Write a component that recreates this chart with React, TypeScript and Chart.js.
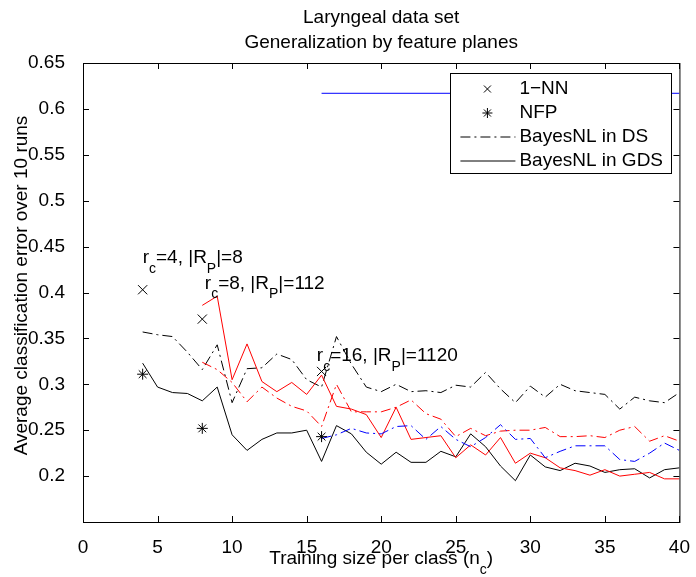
import React, { useEffect, useRef } from "react";
import { Chart, registerables } from "chart.js";

Chart.register(...registerables);

const TITLE_LINES = ["Laryngeal data set", "Generalization by feature planes"];
const Y_LABEL = "Average classification error over 10 runs";

const X_FROM_4 = [4, 5, 6, 7, 8, 9, 10, 11, 12, 13, 14, 15, 16, 17, 18, 19, 20, 21, 22, 23, 24, 25, 26, 27, 28, 29, 30, 31, 32, 33, 34, 35, 36, 37, 38, 39, 40];
const X_FROM_8 = [8, 9, 10, 11, 12, 13, 14, 15, 16, 17, 18, 19, 20, 21, 22, 23, 24, 25, 26, 27, 28, 29, 30, 31, 32, 33, 34, 35, 36, 37, 38, 39, 40];
const X_FROM_16 = [16, 17, 18, 19, 20, 21, 22, 23, 24, 25, 26, 27, 28, 29, 30, 31, 32, 33, 34, 35, 36, 37, 38, 39, 40];

const DS_BLACK = [0.357, 0.354, 0.352, 0.335, 0.316, 0.343, 0.28, 0.317, 0.318, 0.333, 0.327, 0.305, 0.297, 0.352, 0.322, 0.297, 0.292, 0.3, 0.292, 0.293, 0.291, 0.299, 0.297, 0.313, 0.295, 0.28, 0.298, 0.286, 0.3, 0.293, 0.291, 0.289, 0.273, 0.286, 0.282, 0.28, 0.291];
const GDS_BLACK = [0.323, 0.297, 0.291, 0.29, 0.282, 0.297, 0.245, 0.228, 0.24, 0.247, 0.247, 0.25, 0.216, 0.255, 0.246, 0.226, 0.213, 0.226, 0.215, 0.215, 0.227, 0.221, 0.246, 0.232, 0.211, 0.195, 0.223, 0.21, 0.206, 0.214, 0.211, 0.204, 0.207, 0.208, 0.198, 0.207, 0.209];
const DS_RED = [0.324, 0.316, 0.302, 0.281, 0.297, 0.285, 0.276, 0.271, 0.254, 0.3, 0.27, 0.27, 0.27, 0.275, 0.283, 0.268, 0.262, 0.243, 0.252, 0.244, 0.249, 0.25, 0.25, 0.253, 0.243, 0.243, 0.244, 0.242, 0.25, 0.254, 0.238, 0.244, 0.238];
const GDS_RED = [0.386, 0.396, 0.305, 0.344, 0.303, 0.292, 0.302, 0.289, 0.31, 0.276, 0.273, 0.267, 0.242, 0.275, 0.24, 0.242, 0.244, 0.22, 0.234, 0.223, 0.242, 0.214, 0.225, 0.22, 0.209, 0.206, 0.201, 0.207, 0.2, 0.202, 0.204, 0.197, 0.197];
const DS_BLUE = [0.241, 0.245, 0.252, 0.247, 0.246, 0.254, 0.255, 0.24, 0.254, 0.24, 0.232, 0.242, 0.256, 0.24, 0.241, 0.22, 0.227, 0.233, 0.233, 0.233, 0.218, 0.216, 0.225, 0.236, 0.228];
const GDS_BLUE_X = [16, 40];
const GDS_BLUE = [0.617, 0.617];

const NN_X = [4, 8, 16];
const NN_ERR = [0.403, 0.371, 0.314];
const NFP_X = [4, 8, 16];
const NFP_ERR = [0.311, 0.252, 0.243];

const ANNOT_X = [4, 8.17, 15.68];
const ANNOT_Y = [0.4375, 0.41, 0.331];
const ANNOT_RC = ["4", "8", "16"];
const ANNOT_RP = ["8", "112", "1120"];

const LEGEND_LABELS = ["1\u2212NN", "NFP", "BayesNL in DS", "BayesNL in GDS"];

const FONT = "'Liberation Sans', Arial, Helvetica, sans-serif";
const FS = 19;
const SUB = 14;
const SUB_OFF = 11;
const DASHDOT = [10, 4, 2, 4];

type Part = { t: string; sub?: boolean };

function richWidth(ctx: CanvasRenderingContext2D, parts: Part[]) {
  let w = 0;
  for (const p of parts) {
    ctx.font = `${p.sub ? SUB : FS}px ${FONT}`;
    w += ctx.measureText(p.t).width;
  }
  return w;
}

function drawRich(ctx: CanvasRenderingContext2D, parts: Part[], x: number, y: number) {
  let cx = x;
  ctx.textBaseline = "middle";
  ctx.textAlign = "left";
  for (const p of parts) {
    ctx.font = `${p.sub ? SUB : FS}px ${FONT}`;
    ctx.fillText(p.t, cx, p.sub ? y + SUB_OFF : y);
    cx += ctx.measureText(p.t).width;
  }
}

function drawCross(ctx: CanvasRenderingContext2D, x: number, y: number, h: number) {
  ctx.beginPath();
  ctx.moveTo(x - h, y - h);
  ctx.lineTo(x + h, y + h);
  ctx.moveTo(x - h, y + h);
  ctx.lineTo(x + h, y - h);
  ctx.stroke();
}

function drawStar(ctx: CanvasRenderingContext2D, x: number, y: number, r: number) {
  const d = r * Math.SQRT1_2;
  ctx.beginPath();
  ctx.moveTo(x - r, y);
  ctx.lineTo(x + r, y);
  ctx.moveTo(x, y - r);
  ctx.lineTo(x, y + r);
  ctx.moveTo(x - d, y - d);
  ctx.lineTo(x + d, y + d);
  ctx.moveTo(x - d, y + d);
  ctx.lineTo(x + d, y - d);
  ctx.stroke();
}

const decorPlugin = {
  id: "decor",
  afterDatasetsDraw(chart: any) {
    const ctx: CanvasRenderingContext2D = chart.ctx;
    const { left, right, top, bottom } = chart.chartArea;
    const xs = chart.scales.x;
    const ys = chart.scales.y;
    ctx.save();
    ctx.fillStyle = "#000";
    ctx.strokeStyle = "#000";

    // annotations
    for (let i = 0; i < ANNOT_X.length; i++) {
      const px = xs.getPixelForValue(ANNOT_X[i]);
      const py = ys.getPixelForValue(ANNOT_Y[i]);
      drawRich(ctx, [
        { t: "r" }, { t: "c", sub: true }, { t: "=" + ANNOT_RC[i] + ", |R" }, { t: "P", sub: true }, { t: "|=" + ANNOT_RP[i] },
      ], px, py);
    }

    // frame
    ctx.lineWidth = 1;
    ctx.strokeRect(left + 0.5, top + 0.5, right - left, bottom - top);
    // inward ticks
    const TL = 6;
    ctx.beginPath();
    for (const t of xs.ticks) {
      const px = Math.round(xs.getPixelForValue(t.value)) + 0.5;
      ctx.moveTo(px, bottom);
      ctx.lineTo(px, bottom - TL);
      ctx.moveTo(px, top);
      ctx.lineTo(px, top + TL);
    }
    for (const t of ys.ticks) {
      const py = Math.round(ys.getPixelForValue(t.value)) + 0.5;
      ctx.moveTo(left, py);
      ctx.lineTo(left + TL, py);
      ctx.moveTo(right, py);
      ctx.lineTo(right - TL, py);
    }
    ctx.stroke();

    // legend
    const lw = 221, lh = 100;
    const lx = right - 8 - lw;
    const ly = top + 10;
    ctx.fillStyle = "#fff";
    ctx.fillRect(lx, ly, lw, lh);
    ctx.strokeRect(Math.round(lx) + 0.5, Math.round(ly) + 0.5, lw, lh);
    ctx.fillStyle = "#000";
    const rows = [ly + 16, ly + 40, ly + 64, ly + 88];
    const mx = lx + 37;
    ctx.lineWidth = 1;
    drawCross(ctx, mx, rows[0], 3.5);
    drawStar(ctx, mx, rows[1], 5);
    ctx.beginPath();
    ctx.setLineDash(DASHDOT);
    ctx.moveTo(lx + 10, rows[2]);
    ctx.lineTo(lx + 65, rows[2]);
    ctx.stroke();
    ctx.setLineDash([]);
    ctx.beginPath();
    ctx.moveTo(lx + 10, rows[3]);
    ctx.lineTo(lx + 65, rows[3]);
    ctx.stroke();
    ctx.font = `${FS}px ${FONT}`;
    ctx.textBaseline = "middle";
    ctx.textAlign = "left";
    for (let i = 0; i < LEGEND_LABELS.length; i++) {
      ctx.fillText(LEGEND_LABELS[i], lx + 69, rows[i]);
    }

    // titles
    const cx = (left + right) / 2;
    ctx.textAlign = "center";
    ctx.font = `${FS}px ${FONT}`;
    ctx.fillText(TITLE_LINES[0], cx, 18);
    ctx.fillText(TITLE_LINES[1], cx, 43);

    // x label
    const xParts: Part[] = [{ t: "Training size per class (n" }, { t: "c", sub: true }, { t: ")" }];
    const w = richWidth(ctx, xParts);
    drawRich(ctx, xParts, cx - w / 2, 559);

    // y label
    ctx.save();
    ctx.translate(22, (top + bottom) / 2 - 7);
    ctx.rotate(-Math.PI / 2);
    ctx.font = `${FS}px ${FONT}`;
    ctx.textAlign = "center";
    ctx.textBaseline = "middle";
    ctx.fillText(Y_LABEL, 0, 0);
    ctx.restore();

    ctx.restore();
  },
};

function pts(xs: number[], ys: number[]) {
  return xs.map((x, i) => ({ x, y: ys[i] }));
}

export default function App() {
  const ref = useRef<HTMLCanvasElement | null>(null);
  useEffect(() => {
    if (!ref.current) return;
    const line = (label: string, data: any, color: string, dash: number[]) => ({
      label,
      data,
      borderColor: color,
      backgroundColor: color,
      borderWidth: 1,
      borderDash: dash,
      pointRadius: 0,
      fill: false,
      tension: 0,
    });
    const chart = new Chart(ref.current, {
      type: "line",
      data: {
        datasets: [
          {
            label: LEGEND_LABELS[0],
            data: pts(NN_X, NN_ERR),
            showLine: false,
            pointStyle: "crossRot",
            pointRadius: 6.5,
            borderColor: "#000",
            backgroundColor: "#000",
            pointBorderWidth: 1,
          } as any,
          {
            label: LEGEND_LABELS[1],
            data: pts(NFP_X, NFP_ERR),
            showLine: false,
            pointStyle: "star",
            pointRadius: 5.5,
            borderColor: "#000",
            backgroundColor: "#000",
            pointBorderWidth: 1,
          } as any,
          line("BayesNL in GDS (blue)", pts(GDS_BLUE_X, GDS_BLUE), "#0000ff", []),
          line("BayesNL in DS (blue)", pts(X_FROM_16, DS_BLUE), "#0000ff", DASHDOT),
          line("BayesNL in GDS (red)", pts(X_FROM_8, GDS_RED), "#ff0000", []),
          line("BayesNL in DS (red)", pts(X_FROM_8, DS_RED), "#ff0000", DASHDOT),
          line(LEGEND_LABELS[3], pts(X_FROM_4, GDS_BLACK), "#000000", []),
          line(LEGEND_LABELS[2], pts(X_FROM_4, DS_BLACK), "#000000", DASHDOT),
        ],
      },
      options: {
        animation: false,
        responsive: false,
        devicePixelRatio: 1,
        layout: { padding: { left: 0, right: 16, top: 63, bottom: 0 } },
        plugins: { legend: { display: false }, tooltip: { enabled: false }, title: { display: false } },
        scales: {
          x: {
            type: "linear",
            min: 0,
            max: 40,
            grid: { display: false },
            border: { display: false },
            ticks: {
              stepSize: 5,
              padding: 6,
              color: "#000",
              font: { family: FONT, size: FS },
              maxRotation: 0,
              autoSkip: false,
            },
            afterFit: (s: any) => {
              s.height = 55;
            },
          },
          y: {
            type: "linear",
            min: 0.15,
            max: 0.65,
            grid: { display: false },
            border: { display: false },
            ticks: {
              stepSize: 0.05,
              padding: 10,
              color: "#000",
              font: { family: FONT, size: FS },
              autoSkip: false,
              callback: (v: any) => (Number(v) < 0.175 ? "" : String(Math.round(Number(v) * 100) / 100)),
            },
            afterFit: (s: any) => {
              s.width = 83;
            },
          },
        },
      } as any,
      plugins: [decorPlugin],
    });
    return () => chart.destroy();
  }, []);
  return (
    <div style={{ position: "absolute", left: 0, top: 0, width: 696, height: 577, background: "#fff" }}>
      <canvas ref={ref} width={696} height={577} style={{ width: 696, height: 577 }} />
    </div>
  );
}
